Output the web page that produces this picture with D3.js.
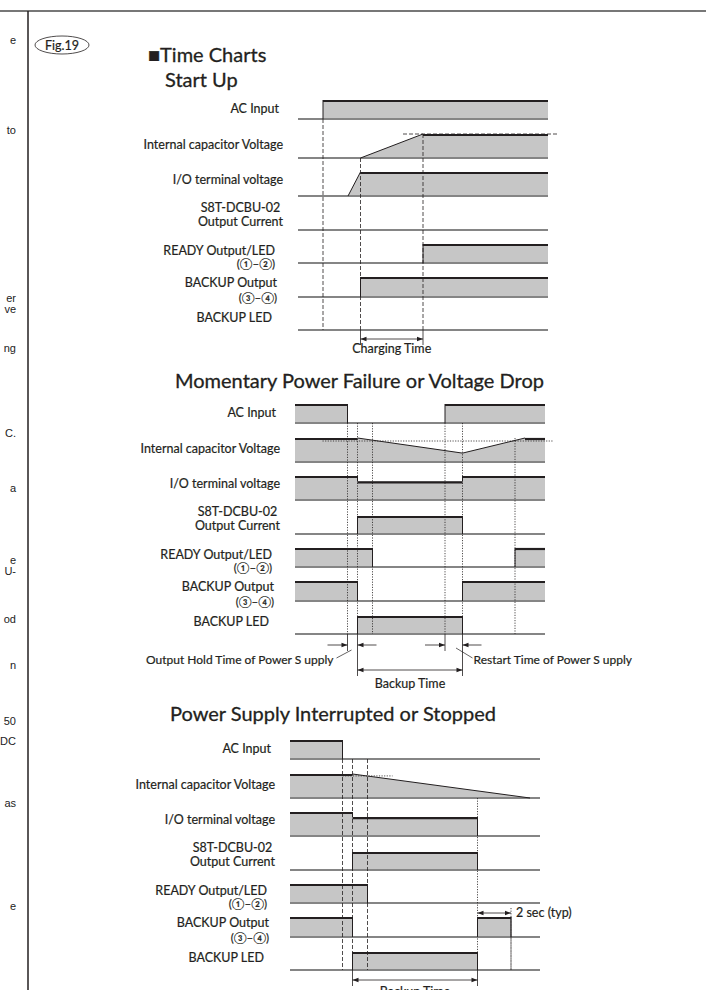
<!DOCTYPE html>
<html>
<head>
<meta charset="utf-8">
<script src="https://cdn.jsdelivr.net/npm/d3@7"></script>
<style>
  body { margin: 0; background: #fff; }
  svg { display: block; font-family: Lato, "Noto Sans", sans-serif; }
  .lbl { font-size: 12.5px; fill: #231f20; stroke: #231f20; stroke-width: 0.2px; }
  .ann { font-size: 12px; fill: #231f20; stroke: #231f20; stroke-width: 0.2px; }
  .ttl { font-size: 20px; fill: #231f20; stroke: #231f20; stroke-width: 0.3px; }
</style>
</head>
<body>
<svg id="chart"></svg>
<script>
// ---- data (time 0..100 across each chart, level 0..1 inside each row) ----
var sectionTitles = ['Start Up', 'Momentary Power Failure or Voltage Drop', 'Power Supply Interrupted or Stopped'];

var startUpLabels = [['AC Input'], ['Internal capacitor Voltage'], ['I/O terminal voltage'], ['S8T-DCBU-02', 'Output Current'],
  ['READY Output/LED', '(①–②)'], ['BACKUP Output', '(③–④)'], ['BACKUP  LED']];
var momentaryLabels = [['AC Input'], ['Internal capacitor Voltage'], ['I/O terminal voltage'], ['S8T-DCBU-02', 'Output Current'],
  ['READY  Output/LED', '(①–②)'], ['BACKUP Output', '(③–④)'], ['BACKUP  LED']];
var stoppedLabels = [['AC Input'], ['Internal capacitor Voltage'], ['I/O terminal voltage'], ['S8T-DCBU-02', 'Output Current'],
  ['READY Output/LED', '(①–②)'], ['BACKUP Output', '(③–④)'], ['BACKUP LED']];

// each row: list of segments, each segment: [time, level] points
var startUpWaves = [
  [[[10, 1], [100, 1]]],
  [[[25, 0], [50, 1], [100, 1]]],
  [[[20, 0], [25, 1], [100, 1]]],
  [],
  [[[50, 1], [100, 1]]],
  [[[25, 1], [100, 1]]],
  []
];
var momentaryWaves = [
  [[[0, 1], [21, 1]], [[60, 1], [100, 1]]],
  [[[0, 1], [25, 1], [67, 0.37], [92, 1], [100, 1]]],
  [[[0, 1], [25, 1], [25, 0.78], [67, 0.78], [67, 1], [100, 1]]],
  [[[25, 1], [67, 1]]],
  [[[0, 1], [31, 1]], [[88, 1], [100, 1]]],
  [[[0, 1], [25, 1]], [[67, 1], [100, 1]]],
  [[[25, 1], [67, 1]]]
];
var stoppedWaves = [
  [[[0, 1], [21, 1]]],
  [[[0, 1], [25, 1], [96, 0]]],
  [[[0, 1], [25, 1], [25, 0.79], [75, 0.79]]],
  [[[25, 1], [75, 1]]],
  [[[0, 1], [31, 1]]],
  [[[0, 1], [25, 1]], [[75, 1], [88.4, 1]]],
  [[[25, 1], [75, 1]]]
];

// capacitor reference level: [level, from, to]
var startUpRef = [1, 42, 104];
var momentaryRef = [0.875, 11, 103];
var stoppedRef = [0.92, 21, 41];

// event markers: [time, start row, start edge, dotted]
var startUpMarkers = [[10, 0, 'base', 0], [25, 1, 'base', 0], [50, 1, 'top', 0]];
var momentaryMarkers = [[21, 0, 'base', 1], [25, 0, 'base', 1], [31, 0, 'base', 1], [60, 0, 'base', 1], [67, 0, 'base', 1], [88, 1, 'top', 1]];
var stoppedMarkers = [[21, 0, 'base', 0], [25, 0, 'base', 0], [31, 0, 'base', 0], [75, 1, 'base', 1], [88.4, 5, 'top', 1]];

// time spans: [from, to, label]
var startUpSpans = [[25, 50, 'Charging Time']];
var momentarySpans = [[25, 67, 'Backup Time']];
var stoppedSpans = [[25, 75, 'Backup Time'], [75, 88.4, '2 sec (typ)']];
// short gaps: [from, to, label]
var momentaryGaps = [[21, 25, 'Output Hold Time of Power S upply'], [60, 67, 'Restart Time of Power S upply']];

var marginText = ['e', 'to', 'er', 've', 'ng', 'C.', 'a', 'e', 'U-', 'od', 'n', '50', 'DC', 'as', 'e'];

// ---- layout ----
var W = 706, H = 990;
var rowOffset = [0, 39, 77, 111, 144, 178, 211];
var rowHeight = [19, 24, 24, 18, 19, 20, 18];
var labelInset = [19, 15, 15, 15, 23, 21, 26];
var labelDy = [[-10], [-13], [-16], [-22, -8], [-12, 1], [-14, 1], [-12]];
var marginY = [40, 130, 298, 309, 348, 433, 488, 560, 571, 619, 665, 721, 741, 803, 906];

var INK = '#231f20', FILL = '#c6c6c6', BASE = '#858585';

var svg = d3.select('#chart').attr('width', W).attr('height', H);
svg.append('rect').attr('width', W).attr('height', H).attr('fill', '#fff');

// page frame
svg.append('line').attr('x1', 0).attr('x2', W).attr('y1', 11).attr('y2', 11)
  .attr('stroke', '#777').attr('stroke-width', 2);
svg.append('line').attr('x1', 28).attr('x2', 28).attr('y1', 11).attr('y2', H)
  .attr('stroke', INK).attr('stroke-width', 1.5);
svg.append('g').selectAll('text').data(marginText).enter().append('text')
  .attr('x', 16).attr('y', (d, i) => marginY[i] + 4)
  .attr('text-anchor', 'end')
  .style('font-family', '"Liberation Sans", Arial, sans-serif')
  .style('font-size', '11px').attr('fill', '#222')
  .text(d => d);

// figure tag + heading
svg.append('ellipse').attr('cx', 62).attr('cy', 45).attr('rx', 27).attr('ry', 9)
  .attr('fill', 'none').attr('stroke', INK).attr('stroke-width', 0.8);
svg.append('text').attr('x', 62).attr('y', 49.5).attr('text-anchor', 'middle')
  .attr('class', 'ann').style('font-size', '12.5px').text('Fig.19');
svg.append('text').attr('x', 148).attr('y', 62)
  .attr('class', 'ttl').text('■Time Charts');

var sections = [
  { title: sectionTitles[0], titleX: 165, titleY: 87, labels: startUpLabels, waves: startUpWaves, ref: startUpRef,
    markers: startUpMarkers, spans: startUpSpans, gaps: [], x0: 298, x1: 548, base: 119,
    spanY: [339], spanLabel: [14], dash: '4,2', refDash: '4,2' },
  { title: sectionTitles[1], titleX: 175, titleY: 388, labels: momentaryLabels, waves: momentaryWaves, ref: momentaryRef,
    markers: momentaryMarkers, spans: momentarySpans, gaps: momentaryGaps, x0: 295, x1: 545, base: 423,
    spanY: [670], spanLabel: [18], gapY: 645, dash: '4,2', refDash: '1.2,1.4' },
  { title: sectionTitles[2], titleX: 170, titleY: 721, labels: stoppedLabels, waves: stoppedWaves, ref: stoppedRef,
    markers: stoppedMarkers, spans: stoppedSpans, gaps: [], x0: 290, x1: 540, base: 759,
    spanY: [980, 913], spanLabel: [16, 'right'], dash: '4,2', refDash: '1.2,1.4' }
];

sections.forEach(drawSection);

function arrowHead(g, xTip, y, dir) {
  g.append('path')
    .attr('d', 'M' + xTip + ',' + y + 'l' + (-dir * 6) + ',-2.2l0,4.4z')
    .attr('fill', INK);
}

function drawSection(s) {
  var g = svg.append('g');
  var x = d3.scaleLinear().domain([0, 100]).range([s.x0, s.x1]);
  var ys = rowOffset.map((off, i) => d3.scaleLinear().domain([0, 1]).range([s.base + off, s.base + off - rowHeight[i]]));
  var ledBase = ys[6](0);

  g.append('text').attr('x', s.titleX).attr('y', s.titleY)
    .attr('class', 'ttl').text(s.title);

  // fills
  s.waves.forEach(function(row, i) {
    var area = d3.area().x(d => x(d[0])).y0(ys[i](0)).y1(d => ys[i](d[1]));
    g.selectAll(null).data(row).enter().append('path')
      .attr('d', seg => area([[seg[0][0], 0]].concat(seg, [[seg[seg.length - 1][0], 0]])))
      .attr('fill', FILL);
  });

  // baselines
  g.selectAll(null).data(ys).enter().append('line')
    .attr('x1', s.x0).attr('x2', s.x1)
    .attr('y1', y => y(0)).attr('y2', y => y(0))
    .attr('stroke', BASE).attr('stroke-width', 1.8);

  // capacitor reference level
  g.append('line')
    .attr('x1', x(s.ref[1])).attr('x2', x(s.ref[2]))
    .attr('y1', ys[1](s.ref[0])).attr('y2', ys[1](s.ref[0]))
    .attr('stroke', INK).attr('stroke-width', 0.8)
    .attr('stroke-dasharray', s.refDash);

  // event markers, extended down to any span arrow that uses them
  var allSpans = s.spans.map((sp, k) => [sp[0], sp[1], s.spanY[k]]);
  s.gaps.forEach(gp => allSpans.push([gp[0], gp[1], s.gapY]));
  s.markers.forEach(function(m) {
    var y0 = m[2] === 'top' ? ys[m[1]](1) : ys[m[1]](0);
    var tail = d3.max(allSpans.filter(sp => sp[0] === m[0] || sp[1] === m[0]), sp => sp[2]);
    var y1 = Math.max(ledBase, y0);
    g.append('line').attr('x1', x(m[0])).attr('x2', x(m[0])).attr('y1', y0).attr('y2', y1)
      .attr('stroke', INK).attr('stroke-width', 0.8)
      .attr('stroke-dasharray', m[3] ? '1.2,1.4' : s.dash);
    if (tail && tail > ledBase) {
      g.append('line').attr('x1', x(m[0])).attr('x2', x(m[0])).attr('y1', ledBase).attr('y2', tail + 6)
        .attr('stroke', INK).attr('stroke-width', 0.8);
    } else if (tail) {
      g.append('line').attr('x1', x(m[0])).attr('x2', x(m[0])).attr('y1', tail - 5).attr('y2', ledBase)
        .attr('stroke', INK).attr('stroke-width', 0.8).attr('stroke-dasharray', '1.2,1.4');
    }
  });

  // edges: thick tops, thin verticals / slopes
  s.waves.forEach(function(row, i) {
    var y = ys[i];
    row.forEach(function(seg) {
      var lines = [];
      var first = seg[0], last = seg[seg.length - 1];
      if (first[1] > 0 && first[0] > 0) lines.push([first[0], 0, first[0], first[1], 0]);
      for (var k = 1; k < seg.length; k++) {
        var a = seg[k - 1], b = seg[k];
        lines.push([a[0], a[1], b[0], b[1], (a[1] === b[1] && a[1] > 0) ? 1 : 0]);
      }
      if (last[1] > 0 && last[0] < 100) lines.push([last[0], last[1], last[0], 0, 0]);
      g.selectAll(null).data(lines).enter().append('line')
        .attr('x1', d => x(d[0])).attr('y1', d => y(d[1]) + (d[4] ? 1 : 0))
        .attr('x2', d => x(d[2])).attr('y2', d => y(d[3]) + (d[4] ? 1 : 0))
        .attr('stroke', INK).attr('stroke-width', d => d[4] ? 2.2 : 1);
    });
  });

  // span arrows
  s.spans.forEach(function(sp, k) {
    var yy = s.spanY[k], xa = x(sp[0]), xb = x(sp[1]);
    g.append('line').attr('x1', xa).attr('x2', xb).attr('y1', yy).attr('y2', yy)
      .attr('stroke', INK).attr('stroke-width', 0.8);
    arrowHead(g, xa, yy, -1);
    arrowHead(g, xb, yy, 1);
    if (s.spanLabel[k] === 'right') {
      g.append('text').attr('x', xb + 5).attr('y', yy + 4)
        .attr('class', 'lbl').text(sp[2]);
    } else {
      g.append('text').attr('x', (xa + xb) / 2).attr('y', yy + s.spanLabel[k])
        .attr('text-anchor', 'middle')
        .attr('class', 'lbl').text(sp[2]);
    }
  });

  // hold / restart gaps
  s.gaps.forEach(function(gp, k) {
    var yy = s.gapY, xa = x(gp[0]), xb = x(gp[1]);
    g.append('line').attr('x1', xa - 20).attr('x2', xa).attr('y1', yy).attr('y2', yy)
      .attr('stroke', INK).attr('stroke-width', 0.8);
    g.append('line').attr('x1', xb).attr('x2', xb + 19).attr('y1', yy).attr('y2', yy)
      .attr('stroke', INK).attr('stroke-width', 0.8);
    arrowHead(g, xa, yy, 1);
    arrowHead(g, xb, yy, -1);
    if (k === 0) {
      g.append('line').attr('x1', xa - 11).attr('y1', yy + 13).attr('x2', xb - 6).attr('y2', yy + 5)
        .attr('stroke', INK).attr('stroke-width', 0.7);
      g.append('text').attr('x', xa - 14).attr('y', yy + 19).attr('text-anchor', 'end')
        .attr('class', 'ann').text(gp[2]);
    } else {
      g.append('line').attr('x1', xa + 11).attr('y1', yy + 3).attr('x2', xb + 10).attr('y2', yy + 13)
        .attr('stroke', INK).attr('stroke-width', 0.7);
      g.append('text').attr('x', xb + 11).attr('y', yy + 19)
        .attr('class', 'ann').text(gp[2]);
    }
  });

  // row labels
  s.labels.forEach(function(lines, i) {
    var right = s.x0 - labelInset[i];
    var texts = lines.map((t, j) => g.append('text')
      .attr('x', right).attr('y', ys[i](0) + labelDy[i][j]).attr('dy', '0.35em')
      .attr('text-anchor', 'end')
      .attr('class', 'lbl').style('font-size', j === 1 && i > 3 ? '11.5px' : null).text(t));
    if (i === 3) {
      var w = d3.max(texts, t => t.node().getComputedTextLength());
      texts.forEach(t => t.attr('text-anchor', 'middle').attr('x', right - w / 2));
    }
  });
}
</script>
</body>
</html>
